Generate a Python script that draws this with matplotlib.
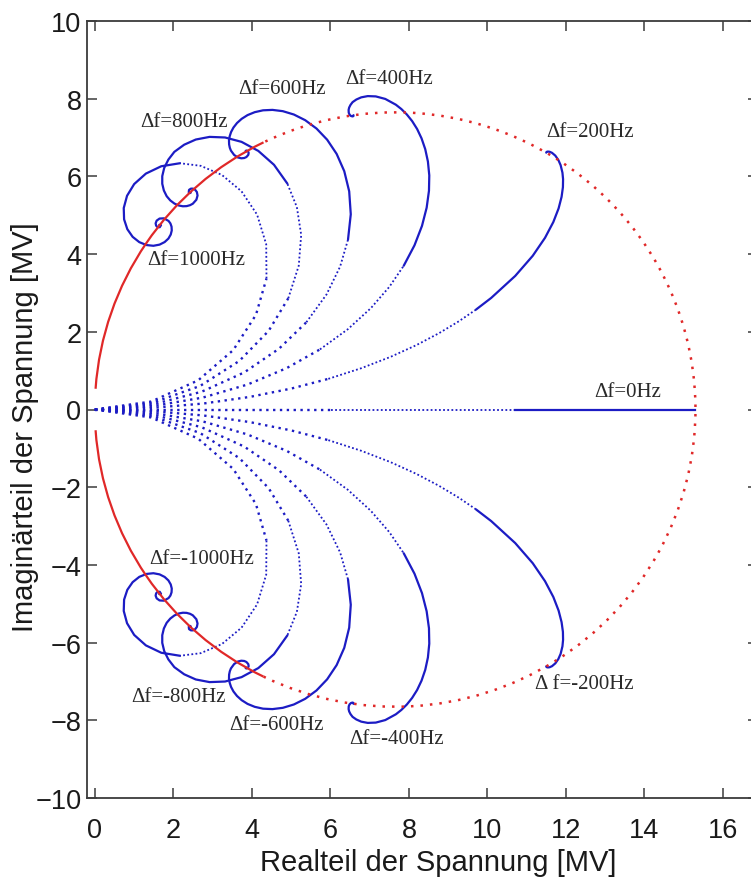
import matplotlib
matplotlib.use('Agg')
import matplotlib.pyplot as plt
from matplotlib.patches import Arc
import numpy as np

# ---------------- data ----------------
# Trajectories of the cavity voltage for positive detuning (negative = mirror image)
c200_x = [0, 1.455, 2.768, 3.947, 5.004, 5.948, 6.787, 7.531, 8.188, 8.765, 9.271, 9.712, 10.095,
          10.708, 11.154, 11.467, 11.679, 11.813, 11.889, 11.923, 11.927, 11.911, 11.865, 11.807,
          11.729, 11.645, 11.585, 11.544, 11.520, 11.500, 11.498]
c200_y = [0, 0.041, 0.154, 0.324, 0.539, 0.789, 1.063, 1.354, 1.656, 1.963, 2.270, 2.574, 2.871,
          3.438, 3.956, 4.419, 4.826, 5.176, 5.474, 5.723, 5.929, 6.096, 6.288, 6.422,
          6.535, 6.607, 6.634, 6.639, 6.636, 6.623, 6.611]

c400_x = [0, 1.453, 2.750, 3.893, 4.886, 5.734, 6.446, 7.032, 7.503, 7.868, 8.142, 8.333, 8.452,
          8.511, 8.519, 8.484, 8.416, 8.322, 8.209, 8.082, 7.947, 7.807, 7.668,
          7.398, 7.156, 6.952, 6.786, 6.661, 6.565, 6.512,
          6.478, 6.464, 6.467, 6.488, 6.524, 6.562, 6.586, 6.588]
c400_y = [0, 0.082, 0.307, 0.644, 1.065, 1.547, 2.068, 2.610, 3.159, 3.700, 4.226, 4.726, 5.195,
          5.630, 6.026, 6.383, 6.701, 6.979, 7.220, 7.424, 7.594, 7.734, 7.845,
          7.994, 8.059, 8.067, 8.035, 7.979, 7.911, 7.840,
          7.772, 7.712, 7.640, 7.590, 7.555, 7.544, 7.552, 7.576]

c600_x = [0, 1.449, 2.722, 3.804, 4.692, 5.388, 5.902, 6.248, 6.449, 6.519, 6.479, 6.353, 6.159,
          5.917, 5.646, 5.358, 5.069, 4.788, 4.524, 4.284, 4.072, 3.890, 3.740, 3.621, 3.531,
          3.470, 3.433, 3.417, 3.420, 3.438, 3.467,
          3.548, 3.641, 3.730, 3.806, 3.861, 3.908, 3.918, 3.899, 3.863, 3.841, 3.849]
c600_y = [0, 0.123, 0.458, 0.954, 1.565, 2.246, 2.962, 3.679, 4.375, 5.025, 5.615, 6.135, 6.579,
          6.945, 7.232, 7.447, 7.593, 7.679, 7.712, 7.701, 7.653, 7.578, 7.482, 7.374, 7.258,
          7.142, 7.028, 6.921, 6.824, 6.737, 6.663,
          6.552, 6.488, 6.466, 6.473, 6.499, 6.553, 6.606, 6.651, 6.667, 6.656, 6.639]

c800_x = [0, 1.444, 2.681, 3.681, 4.428, 4.927, 5.194, 5.256, 5.146, 4.903, 4.563, 4.164, 3.737,
          3.317, 2.923, 2.571, 2.276, 2.025, 1.873, 1.767, 1.717, 1.717, 1.758, 1.830, 1.922,
          2.027, 2.137, 2.242, 2.339, 2.425, 2.495,
          2.586, 2.616, 2.599, 2.554, 2.499, 2.448, 2.399, 2.392, 2.424, 2.444, 2.432]
c800_y = [0, 0.164, 0.606, 1.251, 2.025, 2.862, 3.702, 4.496, 5.209, 5.816, 6.299, 6.656, 6.889,
          7.002, 7.017, 6.949, 6.816, 6.632, 6.433, 6.219, 6.007, 5.810, 5.637, 5.490, 5.381,
          5.301, 5.251, 5.231, 5.235, 5.259, 5.297,
          5.399, 5.507, 5.597, 5.657, 5.685, 5.685, 5.653, 5.591, 5.571, 5.584, 5.595]

c1000_x = [0, 1.437, 2.631, 3.526, 4.104, 4.372, 4.365, 4.133, 3.736, 3.237, 2.698, 2.168, 1.691,
           1.300, 1.002, 0.820, 0.736, 0.745, 0.827, 0.963, 1.132, 1.314, 1.491, 1.649, 1.778,
           1.874, 1.933, 1.959, 1.954, 1.925, 1.878,
           1.760, 1.649, 1.575, 1.548, 1.561, 1.596, 1.653, 1.685, 1.640, 1.651]
c1000_y = [0, 0.205, 0.750, 1.530, 2.437, 3.372, 4.252, 5.016, 5.616, 6.037, 6.272, 6.339, 6.261,
           6.072, 5.803, 5.501, 5.186, 4.894, 4.642, 4.444, 4.308, 4.233, 4.214, 4.244, 4.310,
           4.400, 4.503, 4.608, 4.705, 4.789, 4.853,
           4.921, 4.915, 4.862, 4.792, 4.732, 4.696, 4.692, 4.744, 4.752, 4.748]

zero_x = [0.0, 6.02, 10.69, 15.30]
zero_y = [0.0, 0.0, 0.0, 0.0]

# steady-state circle
circle_center = (7.65, 0.0)
circle_radius = 7.65
circle_solid_deg = (116.0, 176.0)

labels_pos = ["Δf=200Hz", "Δf=400Hz", "Δf=600Hz", "Δf=800Hz", "Δf=1000Hz", "Δf=0Hz"]
labels_neg = ["Δ f=-200Hz", "Δf=-400Hz", "Δf=-600Hz", "Δf=-800Hz", "Δf=-1000Hz"]

# ---------------- drawing ----------------
blue = '#1c1cc4'
red = '#e02828'

fig = plt.figure(figsize=(7.51, 8.79), dpi=100)
ax = fig.add_axes([87 / 751, 1 - 799 / 879, 671.3 / 751, 777 / 879])

curves = [(c200_x, c200_y), (c400_x, c400_y), (c600_x, c600_y),
          (c800_x, c800_y), (c1000_x, c1000_y)]
split_idx = [11, 9, 8, 9, 11]   # where the sampled points merge into a solid line
coarse = (0, (1, 1.9))
fine = (0, (1, 1.3))
for (cx, cy), k in zip(curves, split_idx):
    for sign in (1, -1):
        x = np.asarray(cx)
        y = sign * np.asarray(cy)
        ax.plot(x[:6], y[:6], color=blue, lw=1.7, ls=coarse, zorder=2)
        ax.plot(x[5:k + 1], y[5:k + 1], color=blue, lw=1.3, ls=fine, zorder=2)
        ax.plot(x[k:], y[k:], color=blue, lw=1.6, solid_capstyle='round',
                solid_joinstyle='round', zorder=2)

zx = np.asarray(zero_x)
zy = np.asarray(zero_y)
ax.plot(zx[:2], zy[:2], color=blue, lw=1.7, ls=coarse, zorder=2)
ax.plot(zx[1:3], zy[1:3], color=blue, lw=1.3, ls=fine, zorder=2)
ax.plot(zx[2:], zy[2:], color=blue, lw=1.6, zorder=2)

d = 2 * circle_radius
t1, t2 = circle_solid_deg
ax.add_patch(Arc(circle_center, d, d, theta1=t1, theta2=t2, color=red, lw=1.6, zorder=3))
ax.add_patch(Arc(circle_center, d, d, theta1=-t2, theta2=-t1, color=red, lw=1.6, zorder=3))
ax.add_patch(Arc(circle_center, d, d, theta1=-t1, theta2=t1, color=red, lw=1.8,
                 ls=(0, (1, 2.8)), zorder=3))

tfont = dict(family='Liberation Serif', fontsize=15, color='#2a2a2a',
             ha='center', va='center', zorder=4)
pos_xy = [(12.61, 7.16), (7.50, 8.51), (4.76, 8.25), (2.27, 7.41), (2.59, 3.85), (13.57, 0.47)]
neg_xy = [(12.48, -7.06), (7.69, -8.48), (4.62, -8.10), (2.13, -7.38), (2.71, -3.84)]
for txt, (tx, ty) in zip(labels_pos, pos_xy):
    ax.text(tx, ty, txt, **tfont)
for txt, (tx, ty) in zip(labels_neg, neg_xy):
    ax.text(tx, ty, txt, **tfont)

ax.set_xlim(-0.2, 16.9)
ax.set_ylim(-10, 10)
ax.set_xticks(np.arange(0, 17, 2))
ax.set_yticks(np.arange(-10, 11, 2))

for sp in ax.spines.values():
    sp.set_color('#3c3c3c')
    sp.set_linewidth(1.3)

ax.tick_params(direction='in', length=7, width=1.1, colors='#3c3c3c',
               top=True, right=True, labelsize=19.5)
ax.tick_params(axis='x', pad=14)
ax.tick_params(axis='y', pad=4)
for lab in ax.get_xticklabels() + ax.get_yticklabels():
    lab.set_family('Liberation Sans')
    lab.set_color('#1a1a1a')

ax.set_xlabel('Realteil der Spannung [MV]', family='Liberation Sans', fontsize=21, color='#1a1a1a')
ax.set_ylabel('Imaginärteil der Spannung [MV]', family='Liberation Sans', fontsize=21, color='#1a1a1a')
ax.xaxis.set_label_coords((438 - 87) / 671.3, (799 - 849) / 777)
ax.yaxis.set_label_coords((39 - 87) / 671.3, (799 - 427) / 777)

fig.savefig('out.png', dpi=100)
